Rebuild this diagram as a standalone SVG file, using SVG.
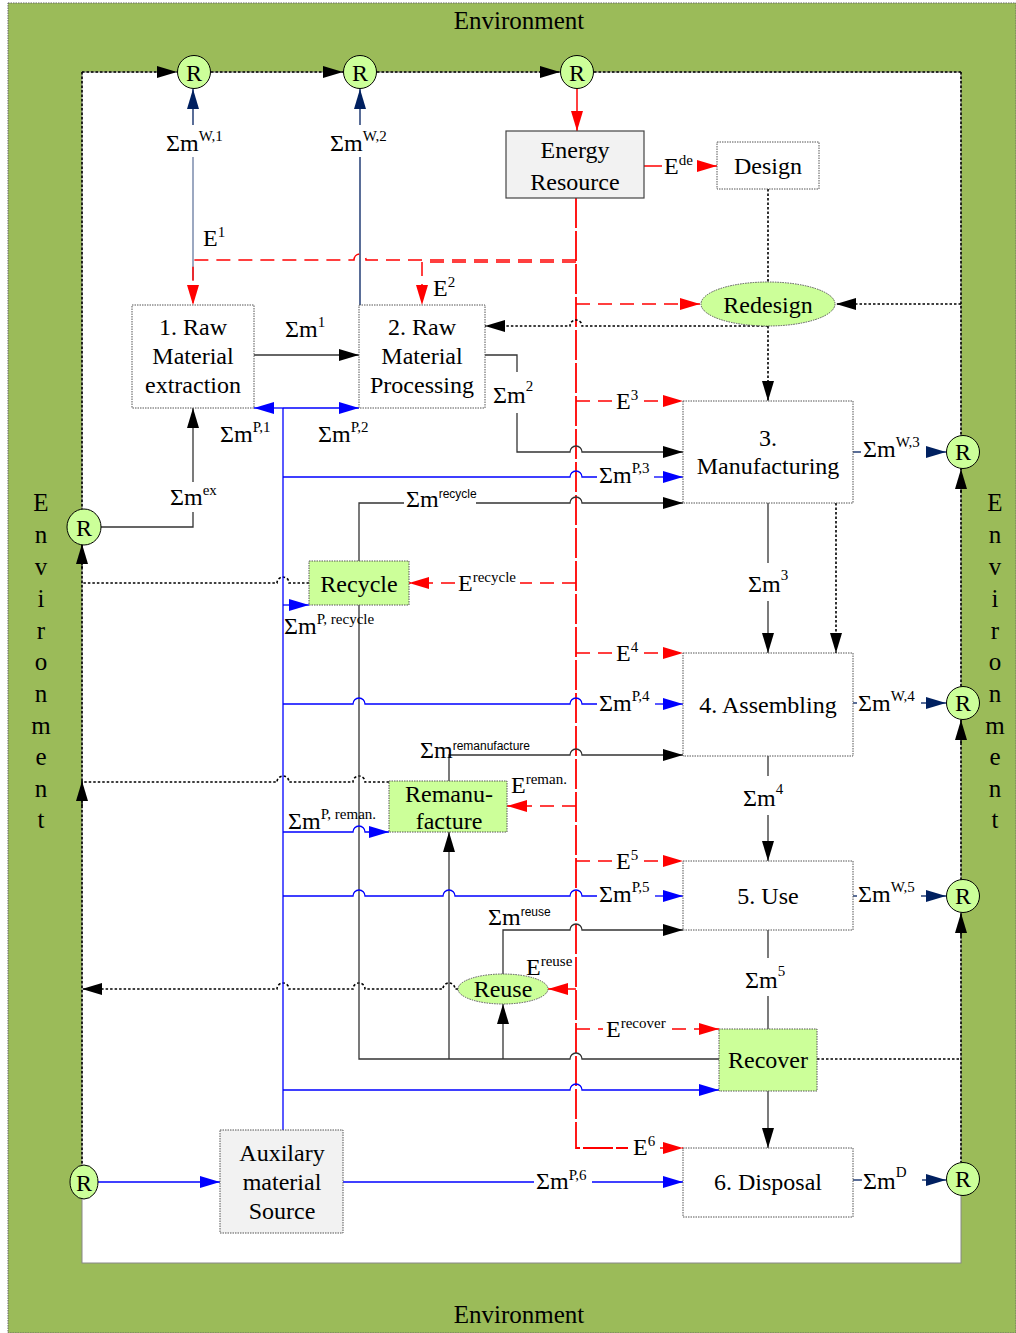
<svg xmlns="http://www.w3.org/2000/svg" width="1016" height="1333" viewBox="0 0 1016 1333">
<style>
text{font-family:"Liberation Serif","Times New Roman",serif;fill:#000}
.t{font-size:24px;text-anchor:middle}
.env{font-size:25px;text-anchor:middle}
.lbl{font-size:24px}
.sup{font-size:15px}
.supa{font-family:"Liberation Sans",Arial,sans-serif;font-size:12px}
.box{fill:#fff;stroke:#555;stroke-width:1;stroke-dasharray:1.5 1}
.grn{fill:#CCFF99}
.gry{fill:#F2F2F2}
.rc{fill:#CCFF99;stroke:#000;stroke-width:1}
.k{stroke:#333;stroke-width:1.3;fill:none}
.b{stroke:#0000FF;stroke-width:1.3;fill:none}
.n{stroke:#002060;stroke-width:1.3;fill:none}
.r{stroke:#FF0000;stroke-width:1.5;fill:none;stroke-dasharray:14 8}
.rv{stroke:#FF0000;stroke-width:1.8;fill:none;stroke-dasharray:30 3}
.rs{stroke:#FF0000;stroke-width:1.5;fill:none}
.d{stroke:#000;stroke-width:1.6;fill:none;stroke-dasharray:2.5 2}
</style>
<defs>
<marker id="ak" viewBox="0 0 20 12" refX="20" refY="6" markerWidth="20" markerHeight="12" markerUnits="userSpaceOnUse" orient="auto"><path d="M0,0L20,6L0,12z" fill="#000"/></marker>
<marker id="ab" viewBox="0 0 20 12" refX="20" refY="6" markerWidth="20" markerHeight="12" markerUnits="userSpaceOnUse" orient="auto"><path d="M0,0L20,6L0,12z" fill="#0000FF"/></marker>
<marker id="ar" viewBox="0 0 20 12" refX="20" refY="6" markerWidth="20" markerHeight="12" markerUnits="userSpaceOnUse" orient="auto"><path d="M0,0L20,6L0,12z" fill="#FF0000"/></marker>
<marker id="an" viewBox="0 0 20 12" refX="20" refY="6" markerWidth="20" markerHeight="12" markerUnits="userSpaceOnUse" orient="auto"><path d="M0,0L20,6L0,12z" fill="#002060"/></marker>
</defs>

<g id="environment">
<rect x="8" y="3" width="1008" height="1330" fill="#9BBB59" stroke="#666" stroke-width="1" stroke-dasharray="1.5 1"/>
<rect x="82" y="72" width="879" height="1191" fill="#fff" stroke="#888" stroke-width="1"/>
<text class="env" x="519" y="29">Environment</text>
<text class="env" x="519" y="1323">Environment</text>
<g class="env">
<text class="env" x="41" y="511">E</text><text class="env" x="41" y="543">n</text><text class="env" x="41" y="575">v</text><text class="env" x="41" y="607">i</text><text class="env" x="41" y="639">r</text><text class="env" x="41" y="670">o</text><text class="env" x="41" y="702">n</text><text class="env" x="41" y="734">m</text><text class="env" x="41" y="765">e</text><text class="env" x="41" y="797">n</text><text class="env" x="41" y="828">t</text>
<text class="env" x="995" y="511">E</text><text class="env" x="995" y="543">n</text><text class="env" x="995" y="575">v</text><text class="env" x="995" y="607">i</text><text class="env" x="995" y="639">r</text><text class="env" x="995" y="670">o</text><text class="env" x="995" y="702">n</text><text class="env" x="995" y="734">m</text><text class="env" x="995" y="765">e</text><text class="env" x="995" y="797">n</text><text class="env" x="995" y="828">t</text>
</g>
</g>

<g id="connectors">
<path class="d" d="M82,72 V1165"/>
<path class="d" d="M961,72 V1162"/>
<path class="d" d="M82,72 H177" marker-end="url(#ak)"/>
<path class="d" d="M211,72 H343" marker-end="url(#ak)"/>
<path class="d" d="M377,72 H560" marker-end="url(#ak)"/>
<path class="d" d="M594,72 H961"/>
<path class="d" d="M82,568 V544" marker-end="url(#ak)"/>
<path class="d" d="M82,806 V781" marker-end="url(#ak)"/>
<path class="d" d="M961,492 V469" marker-end="url(#ak)"/>
<path class="d" d="M961,743 V720" marker-end="url(#ak)"/>
<path class="d" d="M961,936 V913" marker-end="url(#ak)"/>

<path class="n" d="M193,125 V89" marker-end="url(#an)"/>
<path class="n" d="M193,157 V280" opacity="0.6"/>
<path class="n" d="M360,125 V89" marker-end="url(#an)"/>
<path class="n" d="M360,157 V305"/>

<path class="rs" d="M577,89 V131" marker-end="url(#ar)"/>
<path class="rs" d="M644,166 H662"/>
<path class="rs" d="M697,166 H717" marker-end="url(#ar)"/>
<path class="rv" d="M576,198 V1148 H628"/>
<path class="r" d="M660,1148 H683" marker-end="url(#ar)"/>
<path class="r" d="M576,260 H366 a6,6 0 0 0 -12,0 H193 V305" marker-end="url(#ar)"/>
<path class="r" d="M576,262 H422 V305" marker-end="url(#ar)"/>
<path class="r" d="M576,304 H700" marker-end="url(#ar)"/>
<path class="r" d="M576,401 H612"/><path class="r" d="M644,401 H683" marker-end="url(#ar)"/>
<path class="r" d="M576,653 H612"/><path class="r" d="M644,653 H683" marker-end="url(#ar)"/>
<path class="r" d="M576,861 H612"/><path class="r" d="M644,861 H683" marker-end="url(#ar)"/>
<path class="r" d="M576,583 H520"/><path class="r" d="M455,583 H409" marker-end="url(#ar)"/>
<path class="r" d="M576,806 H507" marker-end="url(#ar)"/>
<path class="rs" d="M576,989 H548" marker-end="url(#ar)"/>
<path class="r" d="M576,1029 H603"/><path class="r" d="M672,1029 H719" marker-end="url(#ar)"/>

<path class="d" d="M768,189 V282"/>
<path class="d" d="M768,326 V401" marker-end="url(#ak)"/>
<path class="d" d="M768,326 H582 a6,6 0 0 0 -12,0 H485" marker-end="url(#ak)"/>
<path class="d" d="M961,304 H836" marker-end="url(#ak)"/>
<path class="d" d="M836,503 V653" marker-end="url(#ak)"/>
<path class="d" d="M309,583 H289 a6,6 0 0 0 -12,0 H82"/>
<path class="d" d="M389,782 H365 a6,6 0 0 0 -12,0 H289 a6,6 0 0 0 -12,0 H82"/>
<path class="d" d="M458,989 H455 a6,6 0 0 0 -12,0 H365 a6,6 0 0 0 -12,0 H289 a6,6 0 0 0 -12,0 H82" marker-end="url(#ak)"/>
<path class="d" d="M817,1059 H961"/>

<path class="k" d="M254,355 H359" marker-end="url(#ak)"/>
<path class="k" d="M485,355 H517 V372"/>
<path class="k" d="M517,413 V452 H570 a6,6 0 0 1 12,0 H683" marker-end="url(#ak)"/>
<path class="k" d="M768,503 V563"/><path class="k" d="M768,601 V653" marker-end="url(#ak)"/>
<path class="k" d="M768,756 V776"/><path class="k" d="M768,815 V861" marker-end="url(#ak)"/>
<path class="k" d="M768,930 V958"/><path class="k" d="M768,996 V1029"/>
<path class="k" d="M768,1091 V1148" marker-end="url(#ak)"/>
<path class="k" d="M101,527 H193 V512"/>
<path class="k" d="M193,482 V408" marker-end="url(#ak)"/>

<path class="k" d="M719,1059 H582 a6,6 0 0 0 -12,0 H359 V605"/>
<path class="k" d="M359,561 V503 H404"/>
<path class="k" d="M476,503 H570 a6,6 0 0 1 12,0 H683" marker-end="url(#ak)"/>
<path class="k" d="M449,1059 V832" marker-end="url(#ak)"/>
<path class="k" d="M449,781 V755 H570 a6,6 0 0 1 12,0 H683" marker-end="url(#ak)"/>
<path class="k" d="M503,1059 V1004" marker-end="url(#ak)"/>
<path class="k" d="M503,974 V930 H570 a6,6 0 0 1 12,0 H683" marker-end="url(#ak)"/>

<path class="b" d="M283,1130 V408"/>
<path class="b" d="M283,408 H254" marker-end="url(#ab)"/>
<path class="b" d="M283,408 H359" marker-end="url(#ab)"/>
<path class="b" d="M283,477 H570 a6,6 0 0 1 12,0 H597"/><path class="b" d="M654,477 H683" marker-end="url(#ab)"/>
<path class="b" d="M283,605 H309" marker-end="url(#ab)"/>
<path class="b" d="M283,704 H353 a6,6 0 0 1 12,0 H570 a6,6 0 0 1 12,0 H597"/><path class="b" d="M655,704 H683" marker-end="url(#ab)"/>
<path class="b" d="M283,832 H353 a6,6 0 0 1 12,0 H389" marker-end="url(#ab)"/>
<path class="b" d="M283,896 H353 a6,6 0 0 1 12,0 H443 a6,6 0 0 1 12,0 H570 a6,6 0 0 1 12,0 H597"/><path class="b" d="M655,896 H683" marker-end="url(#ab)"/>
<path class="b" d="M283,1090 H570 a6,6 0 0 1 12,0 H719" marker-end="url(#ab)"/>
<path class="b" d="M98,1182 H220" marker-end="url(#ab)"/>
<path class="b" d="M343,1182 H534"/><path class="b" d="M592,1182 H683" marker-end="url(#ab)"/>

<path class="n" d="M853,452 H861"/><path class="n" d="M926,452 H946" marker-end="url(#an)"/>
<path class="n" d="M853,703 H857"/><path class="n" d="M921,703 H946" marker-end="url(#an)"/>
<path class="n" d="M853,896 H857"/><path class="n" d="M921,896 H946" marker-end="url(#an)"/>
<path class="n" d="M853,1180 H862"/><path class="n" d="M922,1180 H946" marker-end="url(#an)"/>

<text class="lbl" x="166" y="151">Σm<tspan class="sup" dy="-10">W,1</tspan></text>
<text class="lbl" x="330" y="151">Σm<tspan class="sup" dy="-10">W,2</tspan></text>
<text class="lbl" x="203" y="246">E<tspan class="sup" dy="-9">1</tspan></text>
<text class="lbl" x="433" y="296">E<tspan class="sup" dy="-9">2</tspan></text>
<text class="lbl" x="664" y="174">E<tspan class="sup" dy="-9">de</tspan></text>
<text class="lbl" x="285" y="337">Σm<tspan class="sup" dy="-10">1</tspan></text>
<text class="lbl" x="493" y="403" font-size="29">Σm<tspan class="sup" font-size="17" dy="-12">2</tspan></text>
<text class="lbl" x="220" y="442">Σm<tspan class="sup" dy="-10">P,1</tspan></text>
<text class="lbl" x="318" y="442">Σm<tspan class="sup" dy="-10">P,2</tspan></text>
<text class="lbl" x="170" y="505">Σm<tspan class="sup" dy="-10">ex</tspan></text>
<text class="lbl" x="616" y="409">E<tspan class="sup" dy="-9">3</tspan></text>
<text class="lbl" x="599" y="483">Σm<tspan class="sup" dy="-10">P,3</tspan></text>
<text class="lbl" x="406" y="507" font-size="19">Σm<tspan class="supa" dy="-9">recycle</tspan></text>
<text class="lbl" x="458" y="591">E<tspan class="sup" dy="-9">recycle</tspan></text>
<text class="lbl" x="284" y="634">Σm<tspan class="sup" dy="-10">P, recycle</tspan></text>
<text class="lbl" x="748" y="592" font-size="29">Σm<tspan class="sup" font-size="17" dy="-12">3</tspan></text>
<text class="lbl" x="616" y="661">E<tspan class="sup" dy="-9">4</tspan></text>
<text class="lbl" x="599" y="711">Σm<tspan class="sup" dy="-10">P,4</tspan></text>
<text class="lbl" x="420" y="758" font-size="18">Σm<tspan class="supa" dy="-8">remanufacture</tspan></text>
<text class="lbl" x="511" y="793">E<tspan class="sup" dy="-9">reman.</tspan></text>
<text class="lbl" x="288" y="829">Σm<tspan class="sup" dy="-10">P, reman.</tspan></text>
<text class="lbl" x="743" y="806" font-size="29">Σm<tspan class="sup" font-size="17" dy="-12">4</tspan></text>
<text class="lbl" x="616" y="869">E<tspan class="sup" dy="-9">5</tspan></text>
<text class="lbl" x="599" y="902">Σm<tspan class="sup" dy="-10">P,5</tspan></text>
<text class="lbl" x="488" y="925" font-size="19">Σm<tspan class="supa" dy="-9">reuse</tspan></text>
<text class="lbl" x="526" y="975">E<tspan class="sup" dy="-9">reuse</tspan></text>
<text class="lbl" x="745" y="988" font-size="29">Σm<tspan class="sup" font-size="17" dy="-12">5</tspan></text>
<text class="lbl" x="606" y="1037">E<tspan class="sup" dy="-9">recover</tspan></text>
<text class="lbl" x="633" y="1155">E<tspan class="sup" dy="-9">6</tspan></text>
<text class="lbl" x="536" y="1189" font-size="21">Σm<tspan class="sup" font-size="13" dy="-9">P,6</tspan></text>
<text class="lbl" x="863" y="457">Σm<tspan class="sup" dy="-10">W,3</tspan></text>
<text class="lbl" x="858" y="711">Σm<tspan class="sup" dy="-10">W,4</tspan></text>
<text class="lbl" x="858" y="902">Σm<tspan class="sup" dy="-10">W,5</tspan></text>
<text class="lbl" x="863" y="1189" font-size="28">Σm<tspan class="sup" font-size="17" dy="-12">D</tspan></text>
</g>

<g id="R_top1"><circle class="rc" cx="194" cy="72" r="16.5"/><text class="t" x="194" y="81" font-size="25">R</text></g>
<g id="R_top2"><circle class="rc" cx="360" cy="72" r="16.5"/><text class="t" x="360" y="81" font-size="25">R</text></g>
<g id="R_top3"><circle class="rc" cx="577" cy="72" r="16.5"/><text class="t" x="577" y="81" font-size="25">R</text></g>
<g id="R_right3"><circle class="rc" cx="963" cy="452" r="16.5"/><text class="t" x="963" y="460" font-size="22">R</text></g>
<g id="R_right4"><circle class="rc" cx="963" cy="703" r="16.5"/><text class="t" x="963" y="711" font-size="22">R</text></g>
<g id="R_right5"><circle class="rc" cx="963" cy="896" r="16.5"/><text class="t" x="963" y="904" font-size="22">R</text></g>
<g id="R_right6"><circle class="rc" cx="963" cy="1179" r="16.5"/><text class="t" x="963" y="1187" font-size="22">R</text></g>
<g id="R_left1"><ellipse class="rc" cx="84" cy="527" rx="17" ry="18"/><text class="t" x="84" y="536" font-size="25">R</text></g>
<g id="R_left2"><ellipse class="rc" cx="84" cy="1182" rx="14" ry="17"/><text class="t" x="84" y="1191" font-size="25">R</text></g>

<g id="energy_resource"><rect x="506" y="131" width="138" height="67" class="gry" stroke="#444" stroke-width="1.2"/><text class="t" x="575" y="158" font-size="26">Energy</text><text class="t" x="575" y="190" font-size="26">Resource</text></g>
<g id="design"><rect class="box" x="717" y="142" width="102" height="47"/><text class="t" x="768" y="174" font-size="26">Design</text></g>
<g id="redesign"><ellipse class="box grn" cx="768" cy="304" rx="67" ry="22"/><text class="t" x="768" y="313">Redesign</text></g>
<g id="raw_extraction"><rect class="box" x="132" y="305" width="122" height="103"/><text class="t" x="193" y="335">1. Raw</text><text class="t" x="193" y="364">Material</text><text class="t" x="193" y="393">extraction</text></g>
<g id="raw_processing"><rect class="box" x="359" y="305" width="126" height="103"/><text class="t" x="422" y="335">2. Raw</text><text class="t" x="422" y="364">Material</text><text class="t" x="422" y="393">Processing</text></g>
<g id="manufacturing"><rect class="box" x="683" y="401" width="170" height="102"/><text class="t" x="768" y="446">3.</text><text class="t" x="768" y="474">Manufacturing</text></g>
<g id="recycle"><rect class="box grn" x="309" y="561" width="100" height="44"/><text class="t" x="359" y="592">Recycle</text></g>
<g id="assembling"><rect class="box" x="683" y="653" width="170" height="103"/><text class="t" x="768" y="713" font-size="25">4. Assembling</text></g>
<g id="remanufacture"><rect class="box grn" x="389" y="781" width="118" height="51"/><text class="t" x="449" y="802">Remanu-</text><text class="t" x="449" y="829">facture</text></g>
<g id="use"><rect class="box" x="683" y="861" width="170" height="69"/><text class="t" x="768" y="904" font-size="25">5. Use</text></g>
<g id="reuse"><ellipse class="box grn" cx="503" cy="989" rx="45" ry="15"/><text class="t" x="503" y="997" font-size="23">Reuse</text></g>
<g id="recover"><rect class="box grn" x="719" y="1029" width="98" height="62"/><text class="t" x="768" y="1068">Recover</text></g>
<g id="disposal"><rect class="box" x="683" y="1148" width="170" height="69"/><text class="t" x="768" y="1190" font-size="25">6. Disposal</text></g>
<g id="auxiliary"><rect class="box gry" x="220" y="1130" width="123" height="103"/><text class="t" x="282" y="1161">Auxilary</text><text class="t" x="282" y="1190">material</text><text class="t" x="282" y="1219">Source</text></g>
</svg>
